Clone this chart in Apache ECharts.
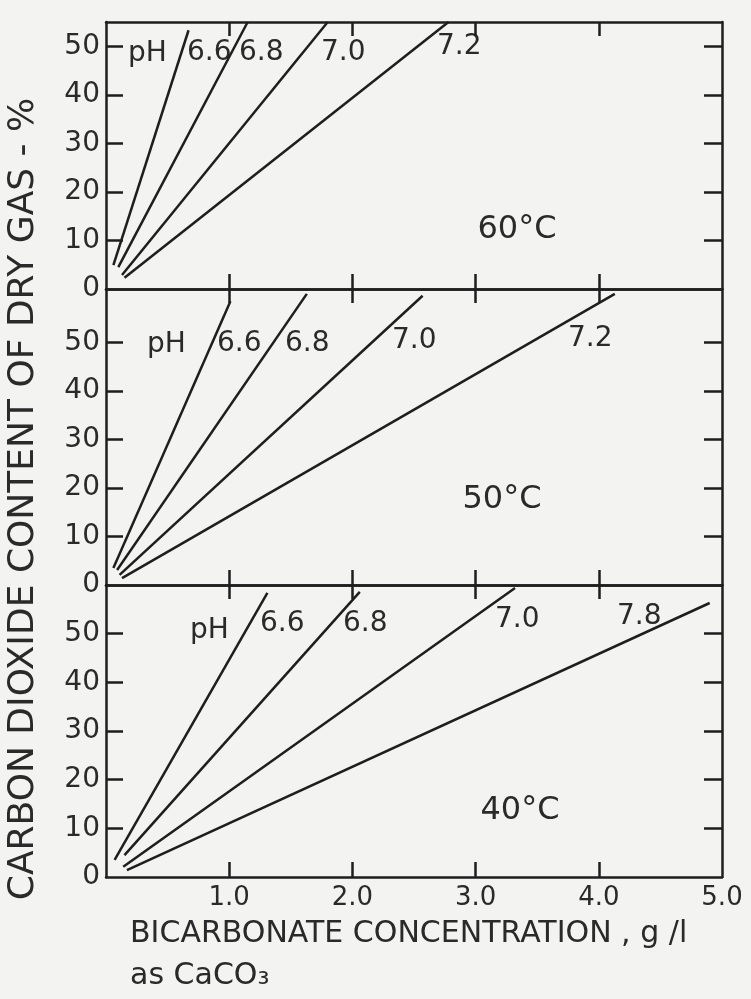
<!DOCTYPE html>
<html>
<head>
<meta charset="utf-8">
<script src="https://cdn.jsdelivr.net/npm/echarts@6/dist/echarts.min.js"></script>
<style>
html,body{margin:0;padding:0;background:#f3f3f1;}
#c{width:751px;height:999px;}
</style>
</head>
<body>
<div id="c"></div>
<script>
// ---- data ----
const xTickValues = [1, 2, 3, 4];
const xLabelValues = [1, 2, 3, 4, 5];
const yTickValues = [10, 20, 30, 40, 50];
const yLabelValues = [0, 10, 20, 30, 40, 50];
const panelTemps = ['60°C', '50°C', '40°C'];
const yMax = [55, 61, 60];

const ph60 = ['6.6', '6.8', '7.0', '7.2'];
const ph50 = ['6.6', '6.8', '7.0', '7.2'];
const ph40 = ['6.6', '6.8', '7.0', '7.8'];

// each line: [[x start, y start], [x end, y end]]  (g/l, %)
const lines60 = [
  [[0.06, 4.9], [0.67, 53.3]],
  [[0.10, 4.5], [1.15, 55.0]],
  [[0.13, 2.9], [1.80, 55.0]],
  [[0.15, 2.3], [2.78, 55.0]]
];
const lines50 = [
  [[0.06, 3.5], [1.01, 58.5]],
  [[0.09, 3.1], [1.63, 60.0]],
  [[0.11, 2.1], [2.57, 59.6]],
  [[0.13, 1.4], [4.13, 60.0]]
];
const lines40 = [
  [[0.07, 3.5], [1.31, 58.4]],
  [[0.15, 4.5], [2.06, 58.6]],
  [[0.14, 2.1], [3.32, 59.4]],
  [[0.17, 1.4], [4.90, 56.3]]
];

// ---- layout / style ----
const FONT = 'DejaVu Sans';
const INK = '#1e1e1e';
const TXT = '#2a2a2a';
const grids = [
  { left: 106, right: 29, top: 22, height: 267 },
  { left: 106, right: 29, top: 289, height: 296 },
  { left: 106, right: 29, top: 585, height: 292 }
];

const axisLine = { show: true, onZero: false, lineStyle: { color: INK, width: 2.5 } };
const xAxes = [], yAxes = [], series = [];
grids.forEach((g, i) => {
  const isLast = i === grids.length - 1;
  xAxes.push({
    type: 'value', gridIndex: i, position: 'bottom', min: 0, max: 5, interval: 1,
    axisLine: axisLine,
    axisTick: { show: true, inside: true, length: 15, customValues: xTickValues, lineStyle: { color: INK, width: 2.5 } },
    axisLabel: isLast ? {
      show: true, customValues: xLabelValues, margin: 8,
      formatter: v => v.toFixed(1), fontFamily: FONT, fontSize: 26, color: TXT
    } : { show: false },
    splitLine: { show: false }
  });
  xAxes.push({
    type: 'value', gridIndex: i, position: 'top', min: 0, max: 5, interval: 1,
    axisLine: axisLine,
    axisTick: { show: true, inside: true, length: 14, customValues: xTickValues, lineStyle: { color: INK, width: 2.5 } },
    axisLabel: { show: false },
    splitLine: { show: false }
  });
  yAxes.push({
    type: 'value', gridIndex: i, position: 'left', min: 0, max: yMax[i], interval: 10,
    axisLine: axisLine,
    axisTick: { show: true, inside: true, length: 17, customValues: yTickValues, lineStyle: { color: INK, width: 2.5 } },
    axisLabel: { show: true, customValues: yLabelValues, margin: 6, fontFamily: FONT, fontSize: 28, color: TXT },
    splitLine: { show: false }
  });
  yAxes.push({
    type: 'value', gridIndex: i, position: 'right', min: 0, max: yMax[i], interval: 10,
    axisLine: axisLine,
    axisTick: { show: true, inside: true, length: 18, customValues: yTickValues, lineStyle: { color: INK, width: 2.5 } },
    axisLabel: { show: false },
    splitLine: { show: false }
  });
});

const panelLines = [lines60, lines50, lines40];
const panelPh = [ph60, ph50, ph40];
panelLines.forEach((ls, i) => {
  ls.forEach((seg, k) => {
    series.push({
      type: 'line', name: panelTemps[i] + ' pH ' + panelPh[i][k],
      xAxisIndex: 2 * i, yAxisIndex: 2 * i,
      data: seg, symbol: 'none', silent: true,
      lineStyle: { color: INK, width: 2.5 }
    });
  });
});

// label positions (pixels): [left, centerY]
const phLabelPos = [
  [[128, 55], [187, 54], [239, 54], [321, 54], [437, 48]],
  [[147, 346], [217, 345], [285, 345], [392, 342], [568, 340]],
  [[190, 632], [260, 625], [343, 625], [495, 621], [617, 618]]
];
const tempPos = [[517, 230], [502, 500], [520, 811]];

const graphics = [];
phLabelPos.forEach((row, i) => {
  const texts = ['pH'].concat(panelPh[i]);
  row.forEach((p, k) => {
    graphics.push({
      type: 'text', left: p[0], top: p[1] - 15, silent: true,
      style: { text: texts[k], font: '28px "' + FONT + '"', fill: TXT }
    });
  });
  graphics.push({
    type: 'text', x: tempPos[i][0], y: tempPos[i][1], silent: true,
    style: { text: panelTemps[i], font: '32px "' + FONT + '"', fill: TXT, textAlign: 'center', textVerticalAlign: 'middle' }
  });
});
graphics.push({
  type: 'text', x: 24, y: 499, rotation: Math.PI / 2, silent: true,
  style: { text: 'CARBON DIOXIDE CONTENT OF DRY GAS - %', font: '36px "' + FONT + '"', fill: TXT, textAlign: 'center', textVerticalAlign: 'middle' }
});
graphics.push({
  type: 'text', x: 130, y: 934, silent: true,
  style: { text: 'BICARBONATE CONCENTRATION , g /l', font: '30px "' + FONT + '"', fill: TXT, textAlign: 'left', textVerticalAlign: 'middle' }
});
graphics.push({
  type: 'text', x: 130, y: 976, silent: true,
  style: { text: 'as CaCO₃', font: '30px "' + FONT + '"', fill: TXT, textAlign: 'left', textVerticalAlign: 'middle' }
});

const chart = echarts.init(document.getElementById('c'));
chart.setOption({
  backgroundColor: '#f3f3f1',
  animation: false,
  grid: grids,
  xAxis: xAxes,
  yAxis: yAxes,
  series: series,
  graphic: graphics
});
</script>
</body>
</html>
